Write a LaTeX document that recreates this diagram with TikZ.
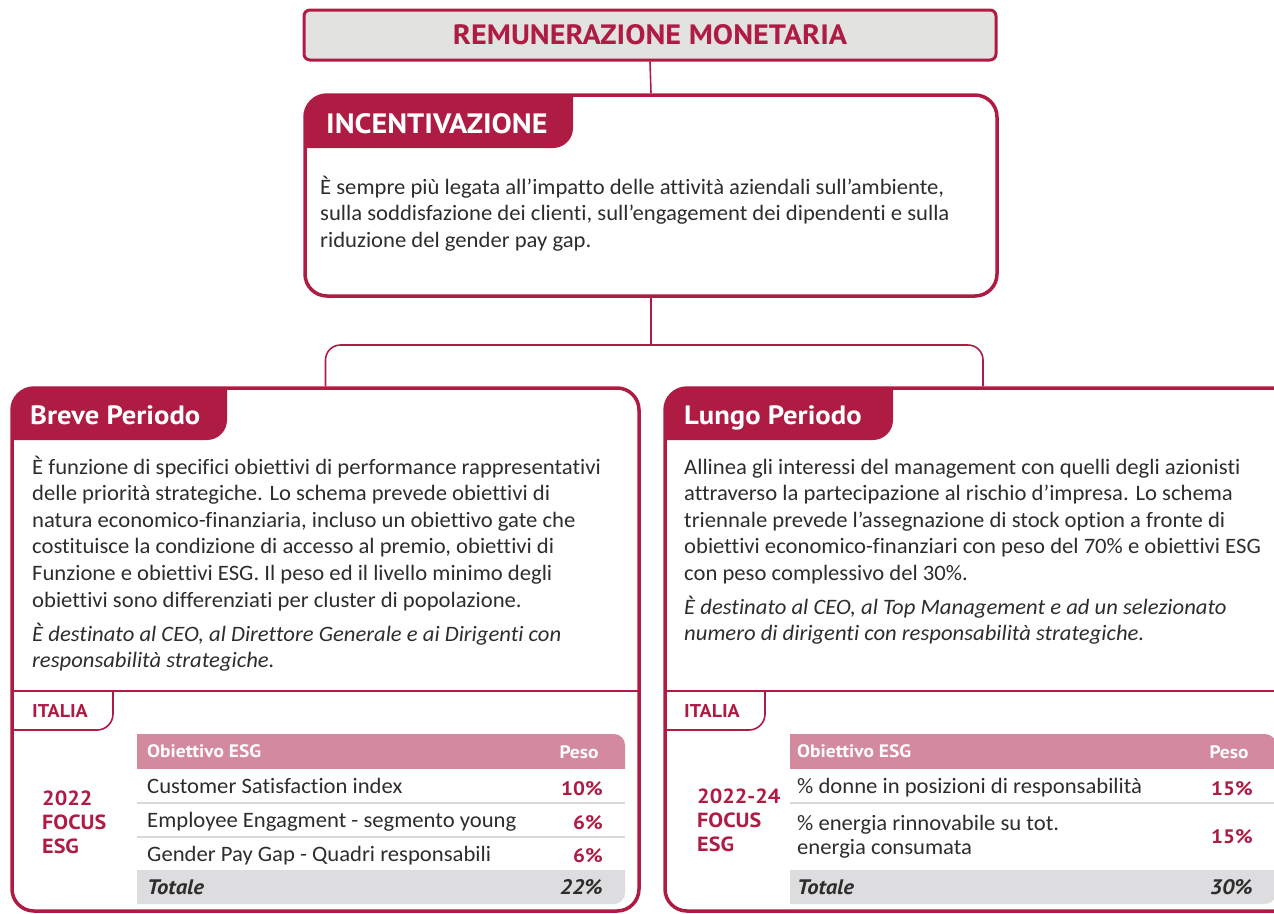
\documentclass[tikz,border=0pt]{standalone}
\usepackage{fontspec}
\setmainfont{Carlito}[Ligatures=NoCommon, FakeStretch=1.03]
\newfontfamily\hfont{PT Sans}[FakeStretch=1.08]
\definecolor{ingred}{RGB}{174,27,67}
\definecolor{hdrpink}{RGB}{212,138,158}
\definecolor{boxgray}{RGB}{226,226,224}
\definecolor{totgray}{RGB}{221,221,223}
\definecolor{txt}{RGB}{45,45,45}
\definecolor{sepgray}{RGB}{216,216,216}
\begin{document}
\begin{tikzpicture}[x=1pt,y=-1pt,
  frame/.style={draw=ingred, line width=3.5pt, rounded corners=22pt, fill=white, inner sep=0pt},
  tabtext/.style={text=white, font=\hfont\bfseries\fontsize{26.5}{30}\selectfont, anchor=base west, inner sep=0pt},
  body/.style={text=txt, font=\fontsize{22}{26}\selectfont, anchor=base west, inner sep=0pt},
  bodyit/.style={body, font=\fontsize{22}{26}\selectfont\itshape},
  link/.style={draw=ingred, line width=1.6pt},
  divider/.style={draw=ingred, line width=2pt},
  italiatab/.style={draw=ingred, line width=1.6pt, rounded corners=16pt},
  italiatext/.style={text=ingred, font=\hfont\bfseries\fontsize{18.5}{20}\selectfont, anchor=base west, inner sep=0pt},
  hdrtext/.style={text=white, font=\hfont\bfseries\fontsize{18}{20}\selectfont, anchor=base west, inner sep=0pt},
  pct/.style={text=ingred, font=\hfont\bfseries\fontsize{19.5}{24}\selectfont, anchor=base east, inner sep=0pt},
  tottext/.style={text=txt, font=\hfont\bfseries\itshape\fontsize{21}{24}\selectfont, inner sep=0pt},
  focus/.style={text=ingred, font=\hfont\bfseries\fontsize{20.5}{24}\selectfont, anchor=base west, inner sep=0pt},
  sep/.style={draw=sepgray, line width=1.5pt}
]
\useasboundingbox (0,0) rectangle (1274,913);

% ---------- top box
\node[draw=ingred, line width=3pt, rounded corners=6pt, fill=boxgray, inner sep=0pt,
      minimum width=692pt, minimum height=50pt,
      text=ingred, font=\hfont\bfseries\fontsize{28}{30}\selectfont] (top) at (650,35) {REMUNERAZIONE MONETARIA};

% ---------- incentivazione
\node[frame, minimum width=692pt, minimum height=201pt] (inc) at (651,195.5) {};
\begin{scope}
  \clip[rounded corners=22pt] (305,95) rectangle (997,296);
  \fill[ingred, rounded corners=20pt] (260,50) rectangle (573,148);
\end{scope}
\node[tabtext, font=\hfont\bfseries\fontsize{28}{30}\selectfont] (inct) at (326,133) {INCENTIVAZIONE};
\foreach \t [count=\i from 0] in {
  {È sempre più legata all’impatto delle attività aziendali sull’ambiente,},
  {sulla soddisfazione dei clienti, sull’engagement dei dipendenti e sulla},
  {riduzione del gender pay gap.}}
  \node[body] (inc\i) at (320,194+\i*26.6) {\t};

% ---------- breve periodo
\node[frame, minimum width=627pt, minimum height=523pt] (breve) at (325.5,649.5) {};
\begin{scope}
  \clip[rounded corners=22pt] (12,388) rectangle (639,911);
  \fill[ingred, rounded corners=20pt] (-30,340) rectangle (227,440);
\end{scope}
\node[tabtext] (brevet) at (30,424) {Breve Periodo};
\foreach \t [count=\i from 0] in {
  {È funzione di specifici obiettivi di performance rappresentativi},
  {delle priorità strategiche. Lo schema prevede obiettivi di},
  {natura economico-finanziaria, incluso un obiettivo gate che},
  {costituisce la condizione di accesso al premio, obiettivi di},
  {Funzione e obiettivi ESG. Il peso ed il livello minimo degli},
  {obiettivi sono differenziati per cluster di popolazione.}}
  \node[body] (bl\i) at (32,474+\i*26.6) {\t};
\foreach \t [count=\i from 0] in {
  {È destinato al CEO, al Direttore Generale e ai Dirigenti con},
  {responsabilità strategiche.}}
  \node[bodyit] (bi\i) at (32,641+\i*26.6) {\t};

\draw[divider] (12,691) -- (639,691);
\draw[italiatab] (12,730) -- (113,730) -- (113,691);
\node[italiatext] (itl) at (32,717) {ITALIA};

% table left
\begin{scope}
  \clip (137,734) rectangle (625,768);
  \fill[hdrpink, rounded corners=11pt] (100,734) rectangle (625,800);
\end{scope}
\begin{scope}
  \clip (137,870) rectangle (625,904);
  \fill[totgray, rounded corners=11pt] (100,830) rectangle (625,904);
\end{scope}
\draw[sep] (137,803) -- (625,803);
\draw[sep] (137,837) -- (625,837);
\node[hdrtext] (lh1) at (147,757) {Obiettivo ESG};
\node[hdrtext, anchor=base] (lh2) at (579,758) {Peso};
\node[body] (lr1) at (147,793) {Customer Satisfaction index};
\node[body] (lr2) at (147,827) {Employee Engagment - segmento young};
\node[body] (lr3) at (147,861) {Gender Pay Gap - Quadri responsabili};
\node[pct] (lp1) at (603,795) {10\%};
\node[pct] (lp2) at (603,829) {6\%};
\node[pct] (lp3) at (603,862) {6\%};
\node[tottext, anchor=base west] (lt) at (147,894) {Totale};
\node[tottext, anchor=base east] (ltp) at (603,894) {22\%};
\node[focus] (lf1) at (42,805) {2022};
\node[focus] (lf2) at (42,829) {FOCUS};
\node[focus] (lf3) at (42,853) {ESG};

% ---------- lungo periodo
\node[frame, minimum width=636pt, minimum height=523pt] (lungo) at (983,649.5) {};
\begin{scope}
  \clip[rounded corners=22pt] (665,388) rectangle (1301,911);
  \fill[ingred, rounded corners=20pt] (620,340) rectangle (893,440);
\end{scope}
\node[tabtext] (lungot) at (684,424) {Lungo Periodo};
\foreach \t [count=\i from 0] in {
  {Allinea gli interessi del management con quelli degli azionisti},
  {attraverso la partecipazione al rischio d’impresa. Lo schema},
  {triennale prevede l’assegnazione di stock option a fronte di},
  {obiettivi economico-finanziari con peso del 70\% e obiettivi ESG},
  {con peso complessivo del 30\%.}}
  \node[body] (rl\i) at (684,474+\i*26.6) {\t};
\foreach \t [count=\i from 0] in {
  {È destinato al CEO, al Top Management e ad un selezionato},
  {numero di dirigenti con responsabilità strategiche.}}
  \node[bodyit] (ri\i) at (684,614+\i*26.6) {\t};

\draw[divider] (665,691) -- (1301,691);
\draw[italiatab] (665,730) -- (765,730) -- (765,691);
\node[italiatext] (itr) at (684,717) {ITALIA};

% table right
\begin{scope}
  \clip (790,734) rectangle (1276,768);
  \fill[hdrpink, rounded corners=11pt] (750,734) rectangle (1276,800);
\end{scope}
\begin{scope}
  \clip (790,870) rectangle (1276,904);
  \fill[totgray, rounded corners=11pt] (750,830) rectangle (1276,904);
\end{scope}
\draw[sep] (790,803) -- (1276,803);
\node[hdrtext] (rh1) at (797,757) {Obiettivo ESG};
\node[hdrtext, anchor=base] (rh2) at (1229,758) {Peso};
\node[body] (rr1) at (797,793) {\% donne in posizioni di responsabilità};
\node[body] (rr2) at (797,830) {\% energia rinnovabile su tot.};
\node[body] (rr3) at (797,854) {energia consumata};
\node[pct] (rp1) at (1253,795) {15\%};
\node[pct] (rp2) at (1253,843) {15\%};
\node[tottext, anchor=base west] (rt) at (797,894) {Totale};
\node[tottext, anchor=base east] (rtp) at (1253,894) {30\%};
\node[focus] (rf1) at (697,803) {2022-24};
\node[focus] (rf2) at (697,827) {FOCUS};
\node[focus] (rf3) at (697,851) {ESG};

% ---------- connectors
\coordinate (bar) at (651,345);
\draw[link] (top.south) -- (inc.north);
\draw[link] (inc.south) -- (bar);
\draw[link, rounded corners=15pt] (breve.north) -- (breve.north |- bar) -- (lungo.north |- bar) -- (lungo.north);

\end{tikzpicture}
\end{document}
